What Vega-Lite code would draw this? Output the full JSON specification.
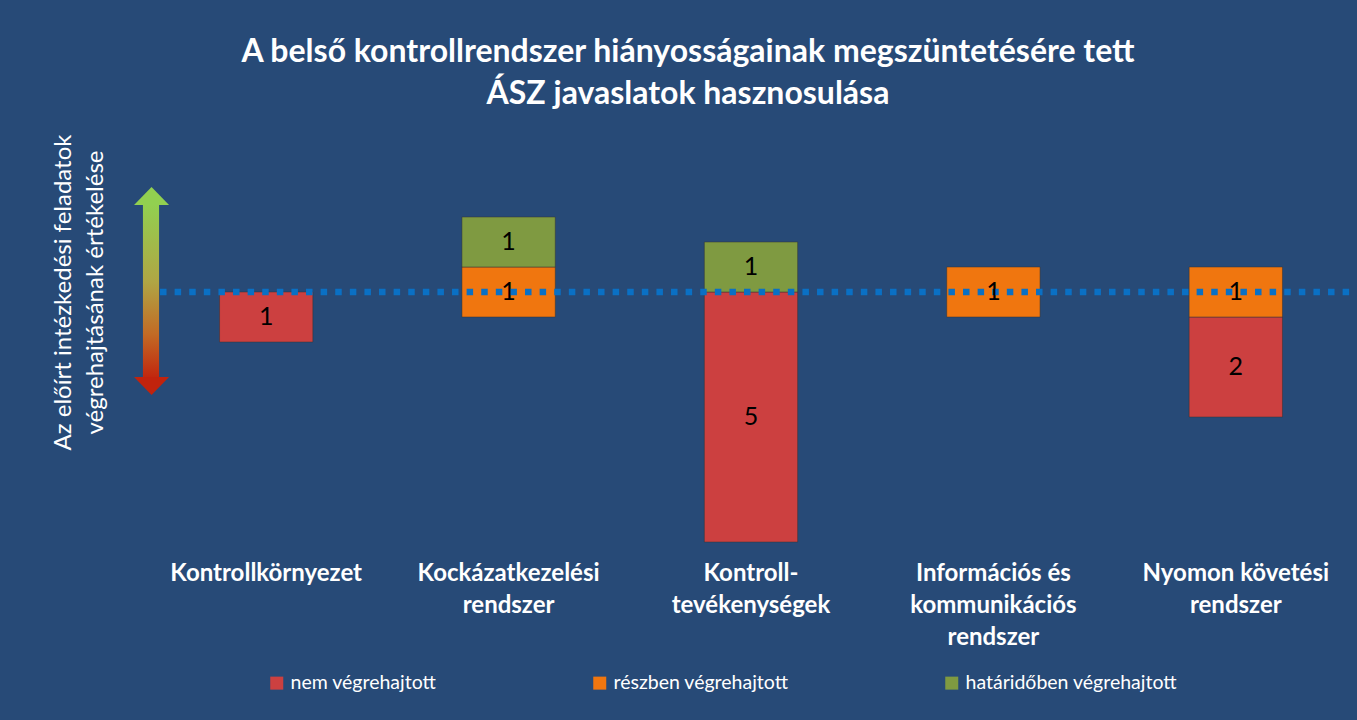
{
  "$schema": "https://vega.github.io/schema/vega-lite/v6.json",
  "width": 1212,
  "height": 415,
  "autosize": {"type": "none"},
  "padding": {"left": 145, "top": 127, "right": 0, "bottom": 178},
  "background": "#274a77",
  "config": {"view": {"stroke": null}, "font": "Lato"},
  "title": {
    "text": ["A belső kontrollrendszer hiányosságainak megszüntetésére tett", "ÁSZ javaslatok hasznosulása"],
    "color": "white",
    "font": "Lato",
    "fontSize": 32,
    "fontWeight": "bold",
    "lineHeight": 42,
    "anchor": "middle",
    "frame": "group",
    "dx": -63,
    "offset": 16
  },
  "data": {
    "values": [
      {"category": "Kontrollkörnyezet", "status": "nem végrehajtott", "count": 1},
      {"category": "Kockázatkezelési rendszer", "status": "részben végrehajtott", "count": 1},
      {"category": "Kockázatkezelési rendszer", "status": "határidőben végrehajtott", "count": 1},
      {"category": "Kontroll-tevékenységek", "status": "nem végrehajtott", "count": 5},
      {"category": "Kontroll-tevékenységek", "status": "határidőben végrehajtott", "count": 1},
      {"category": "Információs és kommunikációs rendszer", "status": "részben végrehajtott", "count": 1},
      {"category": "Nyomon követési rendszer", "status": "nem végrehajtott", "count": 2},
      {"category": "Nyomon követési rendszer", "status": "részben végrehajtott", "count": 1}
    ]
  },
  "resolve": {"scale": {"x": "independent"}},
  "layer": [
    {
      "transform": [
        {"calculate": "datum.status === 'részben végrehajtott' ? datum.count : 0", "as": "r"},
        {"joinaggregate": [{"op": "sum", "field": "r", "as": "rsum"}], "groupby": ["category"]},
        {"calculate": "datum.status === 'nem végrehajtott' ? -datum.rsum / 2 : (datum.status === 'részben végrehajtott' ? -datum.count / 2 : datum.rsum / 2)", "as": "y0"},
        {"calculate": "datum.status === 'nem végrehajtott' ? -datum.rsum / 2 - datum.count : (datum.status === 'részben végrehajtott' ? datum.count / 2 : datum.rsum / 2 + datum.count)", "as": "y1"}
      ],
      "mark": {"type": "bar", "stroke": "#333333", "strokeOpacity": 0.5, "strokeWidth": 1},
      "encoding": {
        "x": {
          "field": "category",
          "type": "nominal",
          "sort": ["Kontrollkörnyezet", "Kockázatkezelési rendszer", "Kontroll-tevékenységek", "Információs és kommunikációs rendszer", "Nyomon követési rendszer"],
          "scale": {"type": "band", "paddingInner": 0.615, "paddingOuter": 0.3075},
          "axis": {
            "title": null,
            "ticks": false,
            "domain": false,
            "grid": false,
            "labelAngle": 0,
            "labelColor": "white",
            "labelFont": "Lato",
            "labelFontSize": 24,
            "labelFontWeight": "bold",
            "labelLineHeight": 32,
            "labelPadding": 19,
            "labelLimit": 400,
            "labelExpr": "datum.value === 'Kockázatkezelési rendszer' ? ['Kockázatkezelési', 'rendszer'] : datum.value === 'Kontroll-tevékenységek' ? ['Kontroll-', 'tevékenységek'] : datum.value === 'Információs és kommunikációs rendszer' ? ['Információs és', 'kommunikációs', 'rendszer'] : datum.value === 'Nyomon követési rendszer' ? ['Nyomon követési', 'rendszer'] : datum.value"
          }
        },
        "y": {
          "field": "y0",
          "type": "quantitative",
          "scale": {"domain": [-5, 3.3], "nice": false, "zero": false},
          "axis": {
            "title": ["Az előírt intézkedési feladatok", "végrehajtásának értékelése"],
            "titleColor": "white",
            "titleFont": "Lato",
            "titleFontSize": 24,
            "titleFontWeight": "normal",
            "titleLineHeight": 32,
            "titleLimit": 500,
            "titleX": -70,
            "titleY": 165,
            "labels": false,
            "ticks": false,
            "domain": false,
            "grid": false
          }
        },
        "y2": {"field": "y1"},
        "color": {
          "field": "status",
          "type": "nominal",
          "scale": {
            "domain": ["nem végrehajtott", "részben végrehajtott", "határidőben végrehajtott"],
            "range": ["#cc4040", "#f0760f", "#7f9a41"]
          },
          "legend": {
            "orient": "none",
            "legendX": 122,
            "legendY": 546,
            "direction": "horizontal",
            "columns": 3,
            "columnPadding": 153,
            "title": null,
            "symbolType": "square",
            "symbolSize": 169,
            "symbolStrokeWidth": 0,
            "symbolOpacity": 1,
            "labelColor": "white",
            "labelFont": "Lato",
            "labelFontSize": 19.5,
            "labelLimit": 400,
            "labelOffset": 4
          }
        }
      }
    },
    {
      "data": {"values": [{}]},
      "layer": [
        {
          "mark": {"type": "rule", "color": "#0a70c4", "strokeWidth": 6.5, "strokeDash": [6.5, 8.1], "strokeCap": "butt"},
          "encoding": {
            "x": {"datum": 1.24, "type": "quantitative", "scale": {"domain": [0, 100], "nice": false, "zero": false}, "axis": null},
            "x2": {"datum": 100},
            "y": {"datum": 0, "type": "quantitative"}
          }
        },
        {
          "mark": {
            "type": "rect",
            "fill": {
              "gradient": "linear",
              "x1": 0, "y1": 0, "x2": 0, "y2": 1,
              "stops": [
                {"offset": 0, "color": "#92d050"},
                {"offset": 0.45, "color": "#b0a544"},
                {"offset": 0.75, "color": "#c26a25"},
                {"offset": 1, "color": "#c1260e"}
              ]
            }
          },
          "encoding": {
            "x": {"datum": -0.17, "type": "quantitative", "scale": {"domain": [0, 100], "nice": false, "zero": false}, "axis": null},
            "x2": {"datum": 1.16},
            "y": {"datum": 1.76, "type": "quantitative"},
            "y2": {"datum": -1.72}
          }
        },
        {
          "mark": {"type": "point", "filled": true, "opacity": 1, "size": 1225, "shape": "M-1,0.51L0,-0.51L1,0.51Z", "color": "#92d050", "strokeWidth": 0},
          "encoding": {
            "x": {"datum": 0.54, "type": "quantitative", "scale": {"domain": [0, 100], "nice": false, "zero": false}, "axis": null},
            "y": {"datum": 1.92, "type": "quantitative"}
          }
        },
        {
          "mark": {"type": "point", "filled": true, "opacity": 1, "size": 1225, "shape": "M-1,-0.51L0,0.51L1,-0.51Z", "color": "#c1230d", "strokeWidth": 0},
          "encoding": {
            "x": {"datum": 0.54, "type": "quantitative", "scale": {"domain": [0, 100], "nice": false, "zero": false}, "axis": null},
            "y": {"datum": -1.88, "type": "quantitative"}
          }
        }
      ]
    },
    {
      "transform": [
        {"calculate": "datum.status === 'részben végrehajtott' ? datum.count : 0", "as": "r"},
        {"joinaggregate": [{"op": "sum", "field": "r", "as": "rsum"}], "groupby": ["category"]},
        {"calculate": "datum.status === 'nem végrehajtott' ? -datum.rsum / 2 - datum.count / 2 : (datum.status === 'részben végrehajtott' ? 0 : datum.rsum / 2 + datum.count / 2)", "as": "ymid"}
      ],
      "mark": {"type": "text", "color": "black", "font": "Lato", "fontSize": 25, "baseline": "middle", "align": "center"},
      "encoding": {
        "x": {
          "field": "category",
          "type": "nominal",
          "sort": ["Kontrollkörnyezet", "Kockázatkezelési rendszer", "Kontroll-tevékenységek", "Információs és kommunikációs rendszer", "Nyomon követési rendszer"],
          "scale": {"type": "band", "paddingInner": 0.615, "paddingOuter": 0.3075},
          "axis": null
        },
        "y": {"field": "ymid", "type": "quantitative"},
        "text": {"field": "count", "type": "quantitative"}
      }
    }
  ]
}
